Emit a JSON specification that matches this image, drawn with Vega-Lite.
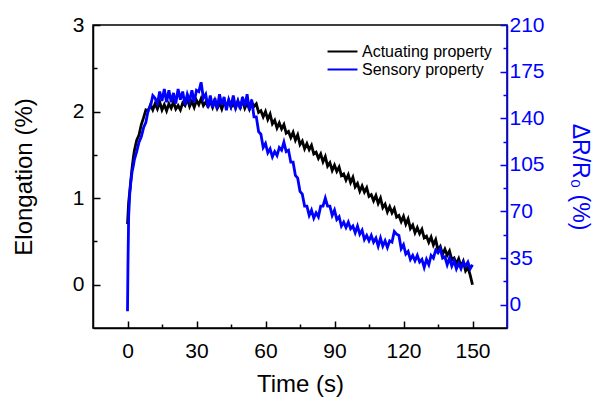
{
  "$schema": "https://vega.github.io/schema/vega-lite/v6.json",
  "width": 414,
  "height": 303,
  "autosize": "none",
  "padding": {"left": 93, "top": 25, "right": 93, "bottom": 70},
  "background": "white",
  "config": {
    "font": "Liberation Sans",
    "view": {"stroke": "black", "strokeWidth": 1.5},
    "axis": {"labelFont": "Liberation Sans", "titleFont": "Liberation Sans", "grid": false, "titleFontWeight": "normal", "domainWidth": 1.5, "tickWidth": 1.5, "ticks": true}
  },
  "data": {"values": [
    {"t":0,"a":0.70,"s":-5},{"t":0.2,"a":0.80,"s":30},{"t":0.5,"a":0.95,"s":66},{"t":1,"a":1.08,"s":84},{"t":1.5,"a":1.22,"s":93},{"t":2,"a":1.35,"s":100},{"t":2.5,"a":1.46,"s":104},{"t":3,"a":1.55,"s":109},{"t":4,"a":1.67,"s":115},{"t":5,"a":1.73,"s":122},{"t":6,"a":1.85,"s":126},{"t":7,"a":1.93,"s":133},{"t":8,"a":2.02,"s":137},{"t":9,"a":2.01,"s":146},{"t":10,"a":2.08,"s":149},{"t":11,"a":2.02,"s":157},{"t":12,"a":2.09,"s":155},
    {"t":13,"a":2.03,"s":151},{"t":14,"a":2.11,"s":160},{"t":15,"a":2.02,"s":153},{"t":16,"a":2.08,"s":162},{"t":17,"a":2.01,"s":152},{"t":18,"a":2.09,"s":161},{"t":19,"a":2.04,"s":152},{"t":20,"a":2.11,"s":159},{"t":21,"a":2.03,"s":151},{"t":22,"a":2.07,"s":162},{"t":23,"a":2.02,"s":154},{"t":24,"a":2.10,"s":160},{"t":25,"a":2.07,"s":150},{"t":26,"a":2.15,"s":158},{"t":27,"a":2.06,"s":153},{"t":28,"a":2.12,"s":161},{"t":29,"a":2.05,"s":152},{"t":30,"a":2.13,"s":161},{"t":31,"a":2.08,"s":160},{"t":32,"a":2.15,"s":167},{"t":33,"a":2.07,"s":155},{"t":34,"a":2.11,"s":158},{"t":35,"a":2.06,"s":148},
    {"t":36,"a":2.12,"s":157},{"t":37,"a":2.05,"s":148},{"t":38,"a":2.13,"s":155},{"t":39,"a":2.04,"s":147},{"t":40,"a":2.10,"s":158},{"t":41,"a":2.03,"s":150},{"t":42,"a":2.11,"s":156},{"t":43,"a":2.06,"s":146},{"t":44,"a":2.13,"s":154},{"t":45,"a":2.05,"s":149},{"t":46,"a":2.09,"s":157},{"t":47,"a":2.04,"s":148},{"t":48,"a":2.12,"s":153},{"t":49,"a":2.05,"s":147},{"t":50,"a":2.13,"s":156},{"t":51,"a":2.04,"s":149},{"t":52,"a":2.10,"s":158},{"t":53,"a":2.03,"s":146},{"t":54,"a":2.11,"s":154},{"t":55,"a":2.06,"s":141},
    {"t":56,"a":2.09,"s":141},{"t":57,"a":1.99,"s":130},{"t":58,"a":2.01,"s":128},{"t":59,"a":1.94,"s":118},{"t":60,"a":2.00,"s":121},{"t":61,"a":1.91,"s":114},{"t":62,"a":1.97,"s":117},{"t":63,"a":1.86,"s":111},{"t":64,"a":1.90,"s":115},{"t":65,"a":1.81,"s":112},{"t":66,"a":1.87,"s":118},{"t":67,"a":1.80,"s":116},{"t":68,"a":1.85,"s":122},{"t":69,"a":1.75,"s":115},{"t":70,"a":1.77,"s":116},{"t":71,"a":1.70,"s":107},{"t":72,"a":1.76,"s":107},{"t":73,"a":1.67,"s":97},{"t":74,"a":1.73,"s":95},{"t":75,"a":1.62,"s":85},
    {"t":76,"a":1.66,"s":83},{"t":77,"a":1.57,"s":74},{"t":78,"a":1.63,"s":74},{"t":79,"a":1.56,"s":67},{"t":80,"a":1.61,"s":71},{"t":81,"a":1.51,"s":65},{"t":82,"a":1.53,"s":69},{"t":83,"a":1.46,"s":66},{"t":84,"a":1.51,"s":74},{"t":85,"a":1.42,"s":74},{"t":86,"a":1.48,"s":80},{"t":87,"a":1.37,"s":74},{"t":88,"a":1.41,"s":74},{"t":89,"a":1.32,"s":67},{"t":90,"a":1.38,"s":71},{"t":91,"a":1.31,"s":64},{"t":92,"a":1.36,"s":66},{"t":93,"a":1.26,"s":59},{"t":94,"a":1.28,"s":62},{"t":95,"a":1.21,"s":58},
    {"t":96,"a":1.27,"s":62},{"t":97,"a":1.18,"s":57},{"t":98,"a":1.24,"s":59},{"t":99,"a":1.13,"s":54},{"t":100,"a":1.17,"s":59},{"t":101,"a":1.08,"s":53},{"t":102,"a":1.14,"s":56},{"t":103,"a":1.07,"s":49},{"t":104,"a":1.12,"s":52},{"t":105,"a":1.02,"s":48},{"t":106,"a":1.04,"s":52},{"t":107,"a":0.97,"s":47},{"t":108,"a":1.03,"s":50},{"t":109,"a":0.94,"s":44},{"t":110,"a":1.00,"s":50},{"t":111,"a":0.89,"s":44},{"t":112,"a":0.93,"s":48},{"t":113,"a":0.84,"s":43},{"t":114,"a":0.90,"s":48},{"t":115,"a":0.83,"s":47},
    {"t":116,"a":0.88,"s":55},{"t":117,"a":0.78,"s":53},{"t":118,"a":0.80,"s":52},{"t":119,"a":0.73,"s":42},{"t":120,"a":0.79,"s":45},{"t":121,"a":0.70,"s":38},{"t":122,"a":0.76,"s":40},{"t":123,"a":0.65,"s":34},{"t":124,"a":0.69,"s":37},{"t":125,"a":0.60,"s":33},{"t":126,"a":0.66,"s":37},{"t":127,"a":0.59,"s":32},{"t":128,"a":0.64,"s":34},{"t":129,"a":0.54,"s":28},{"t":130,"a":0.56,"s":34},{"t":131,"a":0.49,"s":30},{"t":132,"a":0.55,"s":37},{"t":133,"a":0.46,"s":35},{"t":134,"a":0.52,"s":41},{"t":135,"a":0.40,"s":39},
    {"t":136,"a":0.44,"s":42},{"t":137,"a":0.35,"s":35},{"t":138,"a":0.41,"s":36},{"t":139,"a":0.34,"s":30},{"t":140,"a":0.39,"s":35},{"t":141,"a":0.29,"s":29},{"t":142,"a":0.31,"s":33},{"t":143,"a":0.24,"s":27},{"t":144,"a":0.30,"s":31},{"t":145,"a":0.21,"s":27},{"t":146,"a":0.27,"s":32},{"t":147,"a":0.16,"s":29},{"t":148,"a":0.20,"s":32},{"t":149,"a":0.11,"s":27},{"t":150,"a":0.00,"s":30}
  ]},
  "encoding": {
    "x": {
      "field": "t", "type": "quantitative",
      "scale": {"domain": [-15, 165], "nice": false, "zero": false},
      "axis": {
        "title": "Time (s)", "titleFontSize": 24, "titlePadding": 11,
        "values": [0,15,30,45,60,75,90,105,120,135,150],
        "labelExpr": "datum.value % 30 == 0 ? datum.label : ''",
        "labelFontSize": 21, "labelColor": "black", "labelPadding": 19,
        "tickSize": {"condition": {"test": "datum.value % 30 == 0", "value": -7}, "value": -4},
        "domainColor": "black", "tickColor": "black", "titleColor": "black"
      }
    },
    "color": {
      "type": "nominal",
      "scale": {"domain": ["Actuating property", "Sensory property"], "range": ["#000000", "#0000ff"]},
      "legend": {
        "title": null, "orient": "none", "legendX": 240, "legendY": 17,
        "symbolType": "M-1.76,0H1.76", "symbolSize": 289, "symbolStrokeWidth": 2,
        "labelFontSize": 16, "labelFont": "Liberation Sans", "labelColor": "black",
        "rowPadding": 0, "padding": 0, "labelOffset": 10
      }
    }
  },
  "layer": [
    {
      "mark": {"type": "line", "strokeWidth": 2.8},
      "encoding": {
        "y": {
          "field": "a", "type": "quantitative",
          "scale": {"domain": [-0.5, 3], "nice": false, "zero": false},
          "axis": {
            "title": "Elongation (%)", "titleFontSize": 24, "titlePadding": 36,
            "values": [0, 0.5, 1, 1.5, 2, 2.5, 3], "format": "~g",
            "labelExpr": "datum.value % 1 == 0 ? datum.label : ''",
            "labelFontSize": 21, "labelPadding": 16,
            "tickSize": {"condition": {"test": "datum.value % 1 == 0", "value": -7}, "value": -4},
            "domainColor": "black", "tickColor": "black", "labelColor": "black", "titleColor": "black"
          }
        },
        "color": {"datum": "Actuating property"}
      }
    },
    {
      "mark": {"type": "line", "strokeWidth": 2.8},
      "encoding": {
        "y": {
          "field": "s", "type": "quantitative",
          "scale": {"domain": [-17.5, 210], "nice": false, "zero": false},
          "axis": {
            "orient": "right",
            "title": "ΔR/R₀ (%)", "titleFontSize": 23, "titlePadding": 23,
            "values": [0, 17.5, 35, 52.5, 70, 87.5, 105, 122.5, 140, 157.5, 175, 192.5, 210],
            "labelExpr": "datum.value % 35 == 0 ? datum.label : ''",
            "labelFontSize": 21, "labelPadding": 9,
            "tickSize": {"condition": {"test": "datum.value % 35 == 0", "value": -7}, "value": -4},
            "domainColor": "#0000ff", "tickColor": "#0000ff", "labelColor": "#0000ff", "titleColor": "#0000ff"
          }
        },
        "color": {"datum": "Sensory property"}
      }
    }
  ],
  "resolve": {"scale": {"y": "independent"}, "axis": {"y": "independent"}}
}
